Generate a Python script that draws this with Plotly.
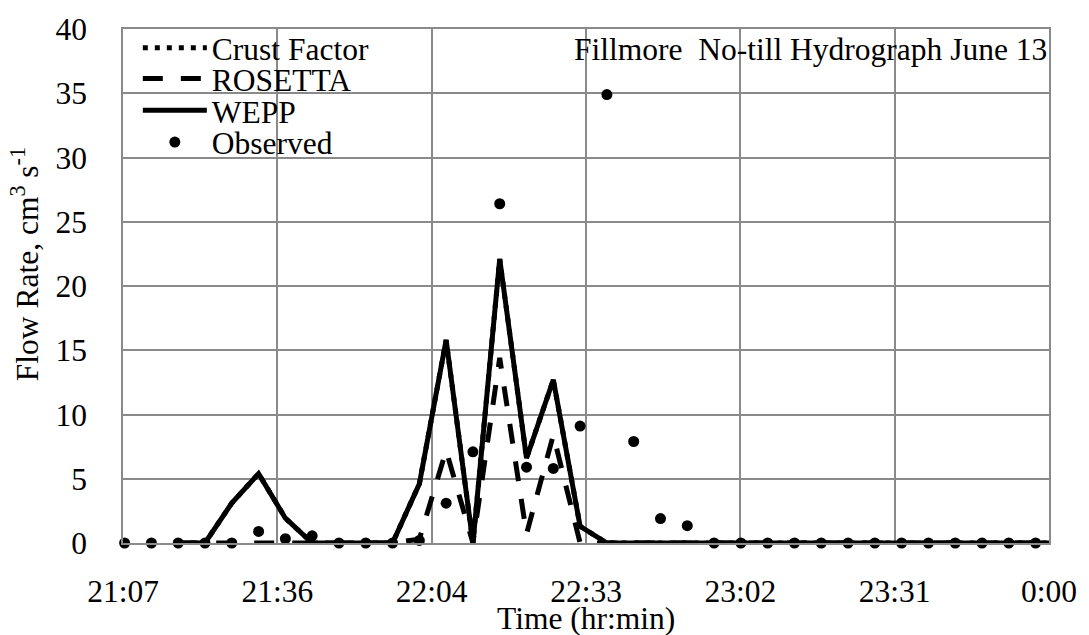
import plotly.graph_objects as go

# ---- data ----
obs_times = ["21:07:30", "21:12:30", "21:17:30", "21:22:30", "21:27:30", "21:32:30",
             "21:37:30", "21:42:30", "21:47:30", "21:52:30", "21:57:30", "22:02:30",
             "22:07:30", "22:12:30", "22:17:30", "22:22:30", "22:27:30", "22:32:30",
             "22:37:30", "22:42:30", "22:47:30", "22:52:30", "22:57:30", "23:02:30",
             "23:07:30", "23:12:30", "23:17:30", "23:22:30", "23:27:30", "23:32:30",
             "23:37:30", "23:42:30", "23:47:30", "23:52:30", "23:57:30"]
observed = [0, 0, 0, 0, 0, 0.9, 0.33, 0.56, 0, 0, 0, 0.2,
            3.1, 7.1, 26.4, 5.9, 5.8, 9.1, 34.9, 7.9, 1.9, 1.35, 0, 0,
            0, 0, 0, 0, 0, 0, 0, 0, 0, 0, 0]

model_times = ["21:17:30", "21:22:30", "21:27:30", "21:32:30", "21:37:30", "21:42:30",
               "21:47:30", "21:52:30", "21:57:30", "22:02:30", "22:07:30", "22:12:30",
               "22:17:30", "22:22:30", "22:27:30", "22:32:30", "22:37:30", "22:42:30",
               "22:47:30", "22:52:30", "22:57:30", "23:02:30", "23:07:30", "23:12:30",
               "23:17:30", "23:22:30", "23:27:30", "23:32:30", "23:37:30", "23:42:30",
               "23:47:30", "23:52:30", "23:57:30", "24:02:30"]
wepp = [0, 0, 3.1, 5.4, 1.93, 0, 0, 0, 0, 4.6, 15.8, 0,
        22.1, 6.6, 12.7, 1.3, 0, 0, 0, 0, 0, 0, 0, 0,
        0, 0, 0, 0, 0, 0, 0, 0, 0, 0]
rosetta = [0, 0, 0, 0, 0, 0, 0, 0, 0, 0.3, 7.2, 0,
           14.4, 0.7, 8.4, 0, 0, 0, 0, 0, 0, 0, 0, 0,
           0, 0, 0, 0, 0, 0, 0, 0, 0, 0]
crust_factor = [0, 0, 3.1, 5.4, 1.93, 0, 0, 0, 0, 4.6, 15.8, 0,
                22.1, 6.6, 12.7, 1.3, 0, 0, 0, 0, 0, 0, 0, 0,
                0, 0, 0, 0, 0, 0, 0, 0, 0, 0]

tick_labels = ["21:07", "21:36", "22:04", "22:33", "23:02", "23:31", "0:00"]
tick_days = [0.88, 0.90, 0.92, 0.94, 0.96, 0.98, 1.00]


def to_day(t):
    h, m, s = (int(v) for v in t.split(":"))
    return (h * 3600 + m * 60 + s) / 86400.0


x_obs = [to_day(t) for t in obs_times]
x_mod = [to_day(t) for t in model_times]

FONT = "Liberation Serif"
FS = 31.5
GRID = "#8a8a8a"

fig = go.Figure()
fig.add_trace(go.Scatter(x=x_mod, y=crust_factor, mode="lines", name="Crust Factor",
                         line=dict(color="black", width=5, dash="5px,7px"),
                         legend="legend"))
fig.add_trace(go.Scatter(x=x_mod, y=rosetta, mode="lines", name="ROSETTA",
                         line=dict(color="black", width=5, dash="20px,18px"),
                         legend="legend2"))
fig.add_trace(go.Scatter(x=x_mod, y=wepp, mode="lines", name="WEPP",
                         line=dict(color="black", width=5),
                         legend="legend3"))
fig.add_trace(go.Scatter(x=x_obs, y=observed, mode="markers", name="Observed",
                         marker=dict(color="black", size=11), cliponaxis=False,
                         legend="legend4"))

plot_l, plot_r, plot_t, plot_b = 123, 1060, 25, 543.3
W, H = 1089, 635
pw, ph = plot_r - plot_l, plot_b - plot_t


def px(xp):
    return (xp - plot_l) / pw


def py(yp):
    return (plot_b - yp) / ph


leg_common = dict(font=dict(family=FONT, size=FS, color="black"), bgcolor="rgba(0,0,0,0)",
                  borderwidth=0, itemwidth=64, xanchor="left", yanchor="middle",
                  tracegroupgap=0)
rows = [44, 75, 107, 139]
leg_x = px(138)
fig.update_layout(
    legend=dict(x=leg_x, y=py(rows[0]), **leg_common),
    legend2=dict(x=leg_x, y=py(rows[1]), **leg_common),
    legend3=dict(x=leg_x, y=py(rows[2]), **leg_common),
    legend4=dict(x=leg_x, y=py(rows[3]), **leg_common),
)

fig.update_layout(
    width=W, height=H,
    margin=dict(l=plot_l, r=W - plot_r, t=plot_t, b=H - plot_b, pad=0),
    paper_bgcolor="white", plot_bgcolor="white",
    font=dict(family=FONT, size=FS, color="black"),
    showlegend=True,
    xaxis=dict(range=[0.88, 1.0], tickmode="array", tickvals=tick_days, ticktext=tick_labels,
               showgrid=True, gridcolor=GRID, gridwidth=1.5, zeroline=False,
               showline=True, linecolor=GRID, linewidth=1.5, mirror=True,
               ticks="", ticklabelstandoff=19,
               tickfont=dict(family=FONT, size=FS, color="black")),
    yaxis=dict(range=[0, 40], dtick=5, tick0=0,
               showgrid=True, gridcolor=GRID, gridwidth=1.5, zeroline=False,
               showline=True, linecolor=GRID, linewidth=1.5, mirror=True,
               ticks="", ticklabelstandoff=28,
               tickfont=dict(family=FONT, size=FS, color="black")),
    annotations=[
        dict(text="Fillmore  No-till Hydrograph June 13", xref="paper", yref="paper",
             x=px(1060), y=py(46), xanchor="right", yanchor="middle", showarrow=False,
             font=dict(family=FONT, size=FS, color="black")),
        dict(text="Time (hr:min)", xref="paper", yref="paper",
             x=0.5, y=py(619), xanchor="center", yanchor="middle", showarrow=False,
             font=dict(family=FONT, size=FS, color="black")),
        dict(text="Flow Rate, cm<sup>3</sup> s<sup>-1</sup>", xref="paper", yref="paper",
             x=px(24), y=py(262), xanchor="center", yanchor="middle", showarrow=False,
             textangle=-90, font=dict(family=FONT, size=FS, color="black")),
    ],
)

fig.write_html("out.html")
